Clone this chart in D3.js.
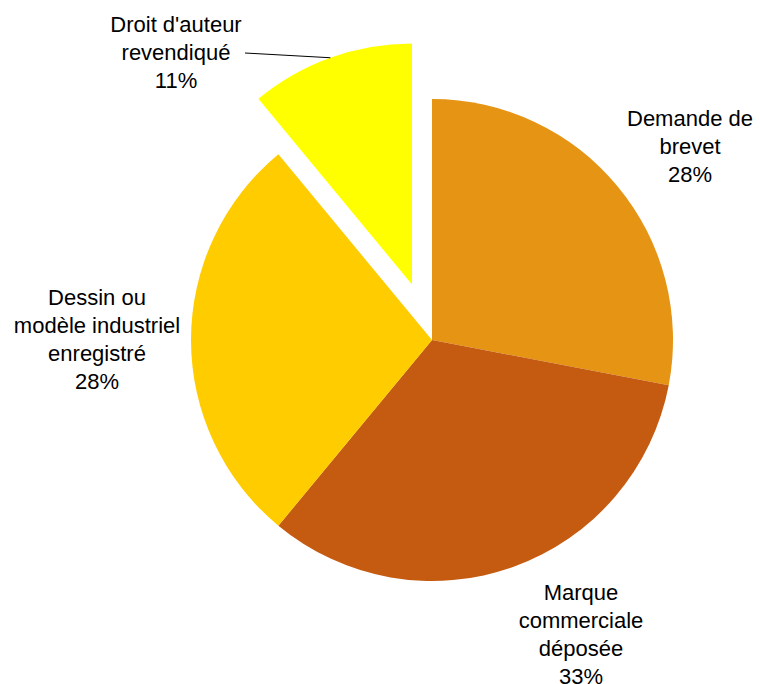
<!DOCTYPE html>
<html>
<head>
<meta charset="utf-8">
<script src="https://cdn.jsdelivr.net/npm/d3@7"></script>
<style>
  body { margin: 0; background: #fff; }
  text { font-family: "Liberation Sans", Arial, sans-serif; font-size: 22px; fill: #000; }
</style>
</head>
<body>
<div id="chart"></div>
<script>
// categories and shares (%)
const categories = [
    ["Demande de", "brevet"],
    ["Marque", "commerciale", "déposée"],
    ["Dessin ou", "modèle industriel", "enregistré"],
    ["Droit d'auteur", "revendiqué"]
];
const values = [28, 33, 28, 11];
const colors = ["#E59414", "#C55A11", "#FFCC00", "#FFFF00"];

// which slice is pulled out of the pie
const exploded = [0, 0, 0, 59];

// label centres (first line), relative to the pie centre
const labelPos = [[258, -222], [149, 252], [-335, -43], [-256, -316]];

const width = 760, height = 684;
const cx = 432, cy = 340, radius = 241;
const lineH = 28;

const svg = d3.select("#chart")
    .append("svg")
    .attr("width", width)
    .attr("height", height);

const g = svg.append("g")
    .attr("transform", "translate(" + cx + "," + cy + ")");

const pie = d3.pie().sort(null).value(d => d);
const arcs = pie(values);

const arc = d3.arc().innerRadius(0).outerRadius(radius);

g.selectAll("path")
    .data(arcs)
    .enter()
    .append("path")
    .attr("d", arc)
    .attr("fill", (d, i) => colors[i])
    .attr("transform", function(d, i) {
        const mid = (d.startAngle + d.endAngle) / 2;
        const off = exploded[i];
        return "translate(" + (Math.sin(mid) * off) + "," + (-Math.cos(mid) * off) + ")";
    });

// leader line for the exploded slice, to the middle of its outer edge
const s3 = arcs[3];
const m3 = (s3.startAngle + s3.endAngle) / 2;
const ex = Math.sin(m3) * (exploded[3] + radius);
const ey = -Math.cos(m3) * (exploded[3] + radius);
g.append("line")
    .attr("x1", labelPos[3][0] + 69)
    .attr("y1", labelPos[3][1] + 29)
    .attr("x2", ex)
    .attr("y2", ey)
    .attr("stroke", "#000")
    .attr("stroke-width", 1);

// labels
categories.forEach((lines, i) => {
    const t = g.append("text")
        .attr("text-anchor", "middle")
        .attr("x", labelPos[i][0])
        .attr("y", labelPos[i][1] + 8);
    lines.concat([values[i] + "%"]).forEach((s, j) => {
        t.append("tspan")
            .attr("x", labelPos[i][0])
            .attr("dy", j === 0 ? 0 : lineH)
            .text(s);
    });
});
</script>
</body>
</html>
